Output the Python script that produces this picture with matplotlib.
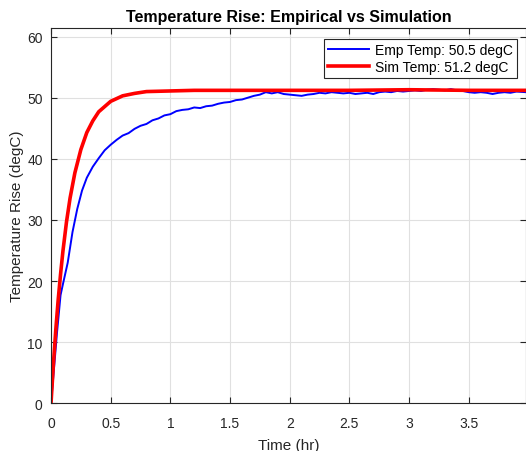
import matplotlib.pyplot as plt

plt.rcParams['font.family'] = ['Liberation Sans', 'DejaVu Sans']

# Simulación (curva roja)
sim_t = [0.0, 0.02, 0.04, 0.06, 0.08, 0.10, 0.13, 0.16, 0.20, 0.25, 0.30, 0.35,
         0.40, 0.50, 0.60, 0.70, 0.80, 1.00, 1.20, 1.50, 2.00, 2.50, 3.00, 3.50, 3.98]
sim_T = [0.0, 6.4, 12.0, 16.9, 21.1, 24.9, 29.7, 33.6, 37.7, 41.5, 44.3, 46.2,
         47.7, 49.4, 50.3, 50.7, 51.0, 51.1, 51.2, 51.2, 51.2, 51.2, 51.3, 51.2, 51.2]

# Empírico (curva azul)
emp_t = [0.0, 0.02, 0.05, 0.08, 0.10, 0.14, 0.18, 0.22, 0.26, 0.30, 0.35, 0.40,
         0.45, 0.50, 0.55, 0.60, 0.65, 0.70, 0.75, 0.80, 0.85, 0.90, 0.95, 1.00,
         1.05, 1.10, 1.15, 1.20, 1.25, 1.30, 1.35, 1.40, 1.45, 1.50, 1.55, 1.60,
         1.65, 1.70, 1.75, 1.80, 1.85, 1.90, 1.95, 2.00, 2.05, 2.10, 2.15, 2.20,
         2.25, 2.30, 2.35, 2.40, 2.45, 2.50, 2.55, 2.60, 2.65, 2.70, 2.75, 2.80,
         2.85, 2.90, 2.95, 3.00, 3.05, 3.10, 3.15, 3.20, 3.25, 3.30, 3.35, 3.40,
         3.45, 3.50, 3.55, 3.60, 3.65, 3.70, 3.75, 3.80, 3.85, 3.90, 3.98]
emp_T = [0.0, 4.5, 11.5, 17.7, 19.5, 23.0, 28.0, 31.8, 34.8, 36.9, 38.7, 40.1,
         41.4, 42.3, 43.1, 43.8, 44.2, 44.9, 45.4, 45.7, 46.3, 46.6, 47.1, 47.3,
         47.8, 48.0, 48.1, 48.4, 48.3, 48.6, 48.7, 49.0, 49.2, 49.3, 49.6, 49.7,
         50.0, 50.3, 50.5, 50.9, 50.7, 50.9, 50.6, 50.5, 50.4, 50.3, 50.5, 50.6,
         50.8, 50.7, 50.9, 50.8, 50.7, 50.8, 50.6, 50.7, 50.8, 50.6, 50.9, 51.0,
         50.9, 51.1, 51.0, 51.1, 51.2, 51.1, 51.3, 51.4, 51.3, 51.2, 51.4, 51.2,
         51.1, 50.9, 50.8, 50.9, 50.8, 50.6, 50.8, 50.9, 50.8, 51.0, 50.9]

fig = plt.figure(figsize=(5.26, 4.52), dpi=100)
ax = fig.add_axes([51 / 526, 1 - 404.3 / 452, 1 - 51 / 526, (404.3 - 29) / 452])

ax.plot(emp_t, emp_T, color='#0000ff', lw=1.4, label='Emp Temp: 50.5 degC')
ax.plot(sim_t, sim_T, color='#ff0000', lw=2.6, label='Sim Temp: 51.2 degC')

ax.set_xlim(0, 3.98)
ax.set_ylim(0, 61.4)
ax.set_xticks([0, 0.5, 1, 1.5, 2, 2.5, 3, 3.5])
ax.set_xticklabels(['0', '0.5', '1', '1.5', '2', '2.5', '3', '3.5'])
ax.set_yticks([0, 10, 20, 30, 40, 50, 60])

gray = '#262626'
ax.grid(True, color='#e0e0e0', lw=0.8)
ax.set_axisbelow(True)
for s in ax.spines.values():
    s.set_color(gray)
    s.set_linewidth(0.8)
ax.tick_params(direction='in', length=4, width=0.8, colors=gray, labelsize=10,
               top=True, right=True)
ax.tick_params(axis='x', pad=9)
ax.tick_params(axis='y', pad=6)

ax.set_title('Temperature Rise: Empirical vs Simulation', fontsize=11.5,
             fontweight='bold', color='black', pad=5)
ax.set_xlabel('Time (hr)', fontsize=11, color=gray, labelpad=6)
ax.set_ylabel('Temperature Rise (degC)', fontsize=11, color=gray, labelpad=2)

leg = ax.legend(loc='upper right', fontsize=10, fancybox=False, framealpha=1,
                edgecolor=gray, handlelength=3.0, borderpad=0.3,
                labelspacing=0.2, handletextpad=0.4, borderaxespad=0,
                bbox_to_anchor=(0.981, 0.9707))
leg.get_frame().set_linewidth(0.8)

fig.savefig('out.png', dpi=100)
